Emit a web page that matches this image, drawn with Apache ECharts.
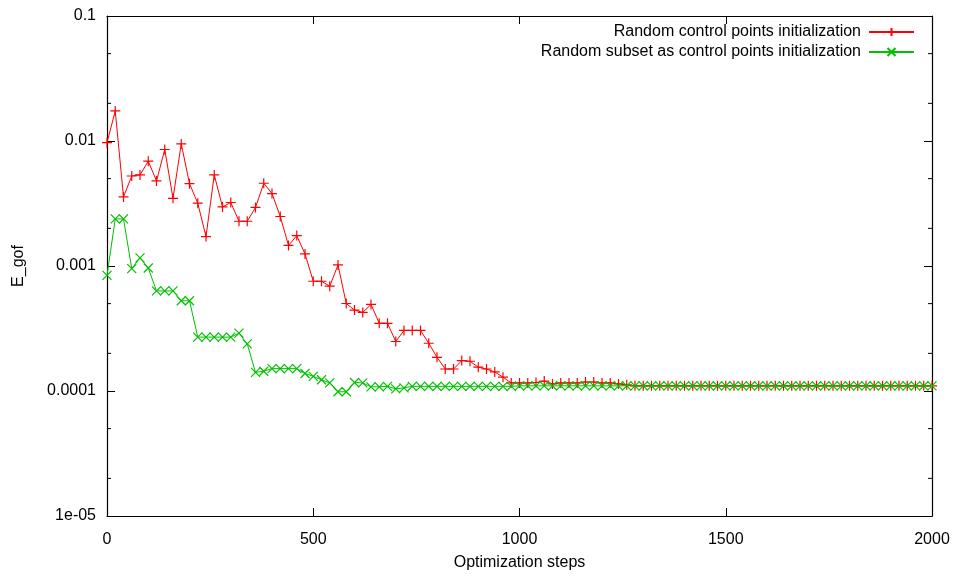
<!DOCTYPE html>
<html>
<head>
<meta charset="utf-8">
<title>E_gof vs optimization steps</title>
<script src="https://cdn.jsdelivr.net/npm/echarts@6/dist/echarts.min.js"></script>
<style>
  html, body { margin: 0; padding: 0; background: #fff; }
  #chart { width: 955px; height: 576px; }
</style>
</head>
<body>
<div id="chart"></div>
<script>
// Optimization step at which each sample was recorded
const steps = [
  0, 20, 40, 60, 80, 100, 120, 140, 160, 180,
  200, 220, 240, 260, 280, 300, 320, 340, 360, 380,
  400, 420, 440, 460, 480, 500, 520, 540, 560, 580,
  600, 620, 640, 660, 680, 700, 720, 740, 760, 780,
  800, 820, 840, 860, 880, 900, 920, 940, 960, 980,
  1000, 1020, 1040, 1060, 1080, 1100, 1120, 1140, 1160, 1180,
  1200, 1220, 1240, 1260, 1280, 1300, 1320, 1340, 1360, 1380,
  1400, 1420, 1440, 1460, 1480, 1500, 1520, 1540, 1560, 1580,
  1600, 1620, 1640, 1660, 1680, 1700, 1720, 1740, 1760, 1780,
  1800, 1820, 1840, 1860, 1880, 1900, 1920, 1940, 1960, 1980,
  2000
];

// E_gof, random control points initialization
const randomPoints = [
  0.0097, 0.0174, 0.00357, 0.00525, 0.00535, 0.0069, 0.00479, 0.00855, 0.00348, 0.00948,
  0.00456, 0.00318, 0.00172, 0.00535, 0.00297, 0.00322, 0.00228, 0.00228, 0.00294, 0.00459,
  0.0038, 0.00249, 0.00146, 0.00175, 0.00125, 0.000755, 0.000755, 0.000689, 0.00102, 0.000501,
  0.000444, 0.000425, 0.000493, 0.000348, 0.000348, 0.000249, 0.000305, 0.000305, 0.000305, 0.000241,
  0.000186, 0.00015, 0.00015, 0.000175, 0.000173, 0.000155, 0.00015, 0.000142, 0.000129, 0.000116,
  0.000116, 0.000116, 0.000117, 0.00012, 0.000114, 0.000116, 0.000116, 0.000116, 0.000118, 0.000118,
  0.000116, 0.000116, 0.000114, 0.000112, 0.00011, 0.00011, 0.00011, 0.00011, 0.00011, 0.00011,
  0.00011, 0.00011, 0.00011, 0.00011, 0.00011, 0.00011, 0.00011, 0.00011, 0.00011, 0.00011,
  0.00011, 0.00011, 0.00011, 0.00011, 0.00011, 0.00011, 0.00011, 0.00011, 0.00011, 0.00011,
  0.00011, 0.00011, 0.00011, 0.00011, 0.00011, 0.00011, 0.00011, 0.00011, 0.00011, 0.00011,
  0.00011
];

// E_gof, random subset used as control points
const randomSubset = [
  0.000841, 0.00238, 0.00238, 0.000953, 0.00116, 0.000964, 0.000632, 0.000632, 0.000632, 0.000527,
  0.000527, 0.00027, 0.00027, 0.00027, 0.00027, 0.00027, 0.00029, 0.000238, 0.000141, 0.000144,
  0.000151, 0.000151, 0.000151, 0.000151, 0.000138, 0.000131, 0.000123, 0.000116, 0.0000986, 0.0000986,
  0.000117, 0.000116, 0.000108, 0.000108, 0.000109, 0.000104, 0.000106, 0.000109, 0.000109, 0.000109,
  0.000109, 0.000109, 0.000109, 0.000109, 0.000109, 0.000109, 0.000109, 0.000109, 0.000109, 0.000109,
  0.00011, 0.00011, 0.00011, 0.00011, 0.00011, 0.00011, 0.00011, 0.00011, 0.00011, 0.00011,
  0.00011, 0.00011, 0.00011, 0.00011, 0.00011, 0.00011, 0.00011, 0.00011, 0.00011, 0.00011,
  0.00011, 0.00011, 0.00011, 0.00011, 0.00011, 0.00011, 0.00011, 0.00011, 0.00011, 0.00011,
  0.00011, 0.00011, 0.00011, 0.00011, 0.00011, 0.00011, 0.00011, 0.00011, 0.00011, 0.00011,
  0.00011, 0.00011, 0.00011, 0.00011, 0.00011, 0.00011, 0.00011, 0.00011, 0.00011, 0.00011,
  0.00011
];

const seriesNames = [
  'Random control points initialization',
  'Random subset as control points initialization'
];

// Axis ranges and tick labels
const xMin = 0, xMax = 2000, xStep = 500;
const xTickLabels = ['0', '500', '1000', '1500', '2000'];
const yMin = 1e-5, yMax = 0.1;
const yTickLabels = ['1e-05', '0.0001', '0.001', '0.01', '0.1'];
const yMinorTicks = [2e-5, 5e-5, 2e-4, 5e-4, 2e-3, 5e-3, 2e-2, 5e-2];

const FONT = '"Liberation Sans", Arial, Helvetica, sans-serif';
const FONT_SIZE = 16;
const RED = '#ff0000';
const GREEN = '#00c000';

// Marker glyphs drawn as stroked paths
const PLUS = 'path://M0,5L10,5M5,0L5,10';
const CROSS = 'path://M0,0L10,10M0,10L10,0';

function xLabel(v) {
  const i = Math.round((v - xMin) / xStep);
  return xTickLabels[i] !== undefined ? xTickLabels[i] : '';
}

function yLabel(v) {
  const i = Math.round(Math.log10(v) - Math.log10(yMin));
  return yTickLabels[i] !== undefined ? yTickLabels[i] : '';
}

const chart = echarts.init(document.getElementById('chart'), null, { renderer: 'canvas' });

const tickCommon = { show: true, inside: true, length: 8, lineStyle: { color: '#000', width: 1 } };
const lineCommon = { show: true, onZero: false, lineStyle: { color: '#000', width: 1.2 } };
const textCommon = { fontFamily: FONT, fontSize: FONT_SIZE, color: '#000' };

const legendCommon = {
  orient: 'horizontal',
  align: 'right',
  right: 40,
  padding: 0,
  itemWidth: 45,
  itemHeight: 10,
  textStyle: Object.assign({ padding: [0, 3, 0, 0] }, textCommon),
  selectedMode: false
};

chart.setOption({
  animation: false,
  backgroundColor: '#fff',
  grid: { left: 107, right: 23, top: 16, bottom: 58, show: false },
  legend: [
    Object.assign({}, legendCommon, { data: [seriesNames[0]], top: 24 }),
    Object.assign({}, legendCommon, { data: [seriesNames[1]], top: 44 })
  ],
  xAxis: [
    {
      type: 'value', min: xMin, max: xMax, interval: xStep, position: 'bottom',
      name: 'Optimization steps', nameLocation: 'middle', nameGap: 39,
      nameTextStyle: textCommon,
      axisLine: lineCommon, axisTick: tickCommon,
      axisLabel: Object.assign({ margin: 16, formatter: xLabel }, textCommon),
      splitLine: { show: false }
    },
    {
      type: 'value', min: xMin, max: xMax, interval: xStep, position: 'top',
      axisLine: lineCommon, axisTick: tickCommon,
      axisLabel: { show: false }, splitLine: { show: false }
    }
  ],
  yAxis: [
    {
      type: 'log', logBase: 10, min: yMin, max: yMax, interval: 1, position: 'left',
      name: 'E_gof', nameLocation: 'middle', nameGap: 80, nameRotate: 90,
      nameTextStyle: textCommon,
      axisLine: lineCommon, axisTick: tickCommon,
      axisLabel: Object.assign({ margin: 11, formatter: yLabel }, textCommon),
      splitLine: { show: false }
    },
    {
      type: 'log', logBase: 10, min: yMin, max: yMax, interval: 1, position: 'right',
      axisLine: lineCommon, axisTick: tickCommon,
      axisLabel: { show: false }, splitLine: { show: false }
    }
  ],
  series: [
    {
      // short minor ticks at 2x and 5x of each decade, on both vertical axes
      type: 'custom',
      name: 'minorTicks',
      xAxisIndex: 0, yAxisIndex: 0,
      silent: true,
      z: 1,
      data: yMinorTicks.map(v => [xMin, v]),
      renderItem: function (params, api) {
        const v = api.value(1);
        const a = api.coord([xMin, v]);
        const b = api.coord([xMax, v]);
        const style = { stroke: '#000', lineWidth: 1 };
        return {
          type: 'group',
          children: [
            { type: 'line', shape: { x1: a[0], y1: a[1], x2: a[0] + 4, y2: a[1] }, style: style },
            { type: 'line', shape: { x1: b[0] - 4, y1: b[1], x2: b[0], y2: b[1] }, style: style }
          ]
        };
      }
    },
    {
      type: 'line',
      name: seriesNames[0],
      data: steps.map((s, i) => [s, randomPoints[i]]),
      symbol: PLUS,
      symbolSize: 10,
      showAllSymbol: true,
      lineStyle: { color: RED, width: 1 },
      itemStyle: { color: RED, borderColor: RED, borderWidth: 1.2 },
      z: 3
    },
    {
      type: 'line',
      name: seriesNames[1],
      data: steps.map((s, i) => [s, randomSubset[i]]),
      symbol: CROSS,
      symbolSize: 9,
      showAllSymbol: true,
      lineStyle: { color: GREEN, width: 1 },
      itemStyle: { color: GREEN, borderColor: GREEN, borderWidth: 1.2 },
      z: 4
    }
  ]
});
</script>
</body>
</html>
